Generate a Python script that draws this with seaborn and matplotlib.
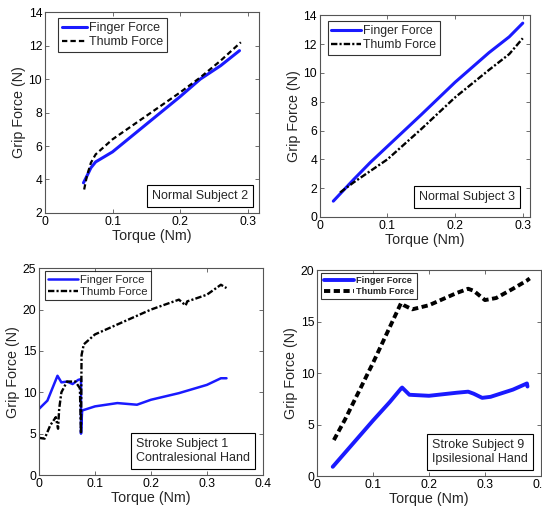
import matplotlib
matplotlib.use("Agg")
import matplotlib.pyplot as plt
import seaborn as sns

# ---- data (Torque in Nm, Grip force in N) ----
p1_finger_x = [0.057, 0.062, 0.068, 0.075, 0.10, 0.15, 0.20, 0.23, 0.26, 0.288]
p1_finger_y = [3.8, 4.2, 4.7, 5.05, 5.65, 7.3, 8.95, 10.0, 10.8, 11.7]
p1_thumb_x = [0.058, 0.062, 0.068, 0.075, 0.10, 0.15, 0.20, 0.23, 0.26, 0.29]
p1_thumb_y = [3.4, 4.2, 5.0, 5.5, 6.4, 7.8, 9.2, 10.1, 11.1, 12.2]

p2_finger_x = [0.02, 0.05, 0.075, 0.10, 0.15, 0.20, 0.25, 0.28, 0.30]
p2_finger_y = [1.1, 2.6, 3.8, 4.9, 7.1, 9.35, 11.4, 12.5, 13.45]
p2_thumb_x = [0.03, 0.05, 0.10, 0.15, 0.20, 0.25, 0.28, 0.30]
p2_thumb_y = [1.7, 2.4, 4.0, 6.1, 8.3, 10.2, 11.3, 12.4]

p3_finger_x = [0.0, 0.015, 0.033, 0.04, 0.05, 0.06, 0.07, 0.075, 0.075, 0.077,
               0.10, 0.14, 0.175, 0.20, 0.25, 0.265, 0.30, 0.325, 0.335]
p3_finger_y = [8.0, 9.0, 12.0, 11.2, 11.3, 11.0, 11.5, 11.6, 5.0, 7.8,
               8.3, 8.7, 8.5, 9.1, 9.9, 10.2, 10.9, 11.7, 11.7]
p3_thumb_x = [0.0, 0.01, 0.02, 0.03, 0.034, 0.036, 0.04, 0.05, 0.065, 0.073,
              0.075, 0.076, 0.08, 0.10, 0.15, 0.20, 0.25, 0.262, 0.265, 0.27,
              0.30, 0.325, 0.335]
p3_thumb_y = [4.5, 4.4, 6.0, 7.0, 5.6, 8.0, 10.0, 11.3, 11.3, 10.5,
              5.0, 14.5, 15.8, 17.0, 18.5, 20.0, 21.2, 20.5, 21.0, 21.1,
              21.8, 23.0, 22.6]

p4_finger_x = [0.028, 0.06, 0.10, 0.13, 0.15, 0.152, 0.165, 0.20, 0.25, 0.27,
               0.28, 0.295, 0.31, 0.35, 0.375, 0.376]
p4_finger_y = [0.9, 2.9, 5.4, 7.2, 8.5, 8.6, 7.9, 7.8, 8.1, 8.2,
               8.0, 7.6, 7.7, 8.4, 9.0, 8.7]
p4_thumb_x = [0.03, 0.05, 0.10, 0.15, 0.155, 0.17, 0.20, 0.25, 0.27, 0.28,
              0.30, 0.32, 0.35, 0.375, 0.38]
p4_thumb_y = [3.5, 5.5, 11.0, 16.8, 16.6, 16.2, 16.6, 17.8, 18.2, 18.0,
              17.1, 17.3, 18.2, 19.0, 19.2]

panel_labels = ["Normal Subject 2", "Normal Subject 3",
                "Stroke Subject 1\nContralesional Hand",
                "Stroke Subject 9\nIpsilesional Hand"]

sns.set_style("ticks", {"xtick.direction": "in", "ytick.direction": "in"})
plt.rcParams["font.family"] = ["Liberation Sans", "DejaVu Sans"]
plt.rcParams["axes.edgecolor"] = "#555555"
plt.rcParams["xtick.color"] = "#555555"
plt.rcParams["ytick.color"] = "#555555"
plt.rcParams["xtick.labelcolor"] = "black"
plt.rcParams["ytick.labelcolor"] = "black"

fig = plt.figure(figsize=(5.42, 5.07), dpi=100)

DASH = (0, (2.4, 1.4))
DASHDOT = (0, (2.7, 0.9, 0.9, 0.9))

panels = [
    dict(rect=[0.083, 0.580, 0.395, 0.396],
         data=(p1_finger_x, p1_finger_y, p1_thumb_x, p1_thumb_y),
         tstyle=DASH, flw=2.2, tlw=1.6, xlim=(0, 0.317), ylim=(2, 14),
         yticks=range(2, 15, 2), leg=(0.061, 0.97), legsize=9, bold=False, hl=2.0,
         txt=(0.724, 0.085), xticks=[0, 0.1, 0.2, 0.3]),
    dict(rect=[0.590, 0.572, 0.387, 0.398],
         data=(p2_finger_x, p2_finger_y, p2_thumb_x, p2_thumb_y),
         tstyle=DASHDOT, flw=2.2, tlw=1.7, xlim=(0, 0.31), ylim=(0, 14),
         yticks=range(0, 15, 2), leg=(0.038, 0.97), legsize=8.8, bold=False, hl=2.4,
         txt=(0.70, 0.10), xticks=[0, 0.1, 0.2, 0.3]),
    dict(rect=[0.072, 0.063, 0.413, 0.408],
         data=(p3_finger_x, p3_finger_y, p3_thumb_x, p3_thumb_y),
         tstyle=DASHDOT, flw=1.8, tlw=1.7, xlim=(0, 0.4), ylim=(0, 25),
         yticks=range(0, 26, 5), leg=(0.027, 0.985), legsize=8.2, bold=False, hl=2.6,
         txt=(0.688, 0.118), xticks=[0, 0.1, 0.2, 0.3, 0.4]),
    dict(rect=[0.585, 0.061, 0.413, 0.406],
         data=(p4_finger_x, p4_finger_y, p4_thumb_x, p4_thumb_y),
         tstyle=(0, (1.6, 0.9)), flw=2.8, tlw=2.8, xlim=(0, 0.4), ylim=(0, 20),
         yticks=range(0, 21, 5), leg=(0.018, 0.985), legsize=6.6, bold=True, hl=3.3,
         txt=(0.728, 0.117), xticks=[0, 0.1, 0.2, 0.3, 0.4]),
]

for i, p in enumerate(panels):
    ax = fig.add_axes(p["rect"])
    fx, fy, tx, ty = p["data"]
    sns.lineplot(x=fx, y=fy, ax=ax, sort=False, estimator=None, color="#1a1aff",
                 linewidth=p["flw"], label="Finger Force")
    sns.lineplot(x=tx, y=ty, ax=ax, sort=False, estimator=None, color="black",
                 linewidth=p["tlw"], label="Thumb Force")
    ax.lines[1].set_linestyle(p["tstyle"])
    ax.set_xlim(*p["xlim"])
    ax.set_ylim(*p["ylim"])
    ax.set_xticks(p["xticks"])
    ax.set_xticklabels(["0" if v == 0 else f"{v:g}" for v in p["xticks"]])
    ax.set_yticks(list(p["yticks"]))
    ax.tick_params(labelsize=8.7, length=3, width=0.6, top=True, right=True, pad=2)
    for sp in ax.spines.values():
        sp.set_visible(True)
        sp.set_linewidth(0.8)
    ax.set_xlabel("Torque (Nm)", fontsize=10.3, labelpad=1)
    ax.set_ylabel("Grip Force (N)", fontsize=10.3, labelpad=2)
    leg_font = {"size": p["legsize"], "weight": "bold" if p["bold"] else "normal"}
    leg = ax.legend(loc="upper left", bbox_to_anchor=p["leg"], prop=leg_font,
                    frameon=True, fancybox=False, handlelength=p["hl"], handletextpad=0.2,
                    borderpad=0.3, labelspacing=0.2, borderaxespad=0)
    leg.get_frame().set_edgecolor("black")
    leg.get_frame().set_linewidth(0.8)
    ax.text(p["txt"][0], p["txt"][1], panel_labels[i], transform=ax.transAxes,
            ha="center", va="center", fontsize=9, multialignment="left",
            bbox=dict(boxstyle="square,pad=0.4", fc="white", ec="black", lw=0.8))

fig.savefig("out.png", dpi=100)
